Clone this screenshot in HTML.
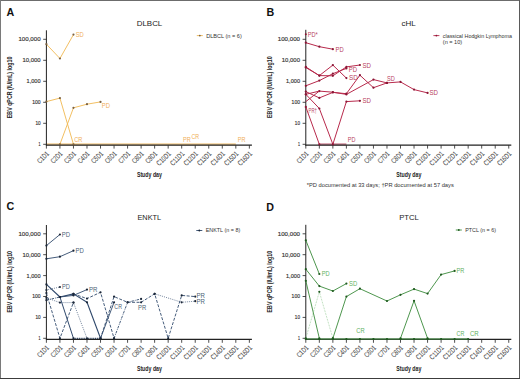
<!DOCTYPE html><html><head><meta charset="utf-8"><style>html,body{margin:0;padding:0;background:#fff;}svg{display:block;}text{font-family:"Liberation Sans",sans-serif;}</style></head><body>
<svg width="520" height="379" viewBox="0 0 520 379">
<rect x="0" y="0" width="520" height="379" fill="#fff"/>
<text x="6.6" y="15.8" font-size="10.7" font-weight="bold" fill="#111">A</text>
<text x="266.6" y="16.0" font-size="10.7" font-weight="bold" fill="#111">B</text>
<text x="6.4" y="210.4" font-size="10.7" font-weight="bold" fill="#111">C</text>
<text x="266.2" y="210.7" font-size="10.7" font-weight="bold" fill="#111">D</text>
<line x1="43.20" y1="144.30" x2="46.40" y2="144.30" stroke="#222" stroke-width="0.8"/>
<text x="40.60" y="146.20" font-size="5.4" fill="#333" stroke="#333" stroke-width="0.15" text-anchor="end" textLength="2.0" lengthAdjust="spacingAndGlyphs">1</text>
<line x1="43.20" y1="123.30" x2="46.40" y2="123.30" stroke="#222" stroke-width="0.8"/>
<text x="40.60" y="125.20" font-size="5.4" fill="#333" stroke="#333" stroke-width="0.15" text-anchor="end" textLength="5.2" lengthAdjust="spacingAndGlyphs">10</text>
<line x1="43.20" y1="102.30" x2="46.40" y2="102.30" stroke="#222" stroke-width="0.8"/>
<text x="40.60" y="104.20" font-size="5.4" fill="#333" stroke="#333" stroke-width="0.15" text-anchor="end" textLength="8.4" lengthAdjust="spacingAndGlyphs">100</text>
<line x1="43.20" y1="81.30" x2="46.40" y2="81.30" stroke="#222" stroke-width="0.8"/>
<text x="40.60" y="83.20" font-size="5.4" fill="#333" stroke="#333" stroke-width="0.15" text-anchor="end" textLength="14.0" lengthAdjust="spacingAndGlyphs">1,000</text>
<line x1="43.20" y1="60.30" x2="46.40" y2="60.30" stroke="#222" stroke-width="0.8"/>
<text x="40.60" y="62.20" font-size="5.4" fill="#333" stroke="#333" stroke-width="0.15" text-anchor="end" textLength="18.2" lengthAdjust="spacingAndGlyphs">10,000</text>
<line x1="43.20" y1="39.30" x2="46.40" y2="39.30" stroke="#222" stroke-width="0.8"/>
<text x="40.60" y="41.20" font-size="5.4" fill="#333" stroke="#333" stroke-width="0.15" text-anchor="end" textLength="22.2" lengthAdjust="spacingAndGlyphs">100,000</text>
<line x1="46.40" y1="145.20" x2="46.40" y2="148.60" stroke="#222" stroke-width="0.8"/>
<text transform="translate(49.60,154.30) rotate(-45)" font-size="7.4" fill="#4a4a4a" stroke="#4a4a4a" stroke-width="0.08" text-anchor="end" textLength="13.6" lengthAdjust="spacingAndGlyphs">C1D1</text>
<line x1="59.93" y1="145.20" x2="59.93" y2="148.60" stroke="#222" stroke-width="0.8"/>
<text transform="translate(63.13,154.30) rotate(-45)" font-size="7.4" fill="#4a4a4a" stroke="#4a4a4a" stroke-width="0.08" text-anchor="end" textLength="13.6" lengthAdjust="spacingAndGlyphs">C2D1</text>
<line x1="73.46" y1="145.20" x2="73.46" y2="148.60" stroke="#222" stroke-width="0.8"/>
<text transform="translate(76.66,154.30) rotate(-45)" font-size="7.4" fill="#4a4a4a" stroke="#4a4a4a" stroke-width="0.08" text-anchor="end" textLength="13.6" lengthAdjust="spacingAndGlyphs">C3D1</text>
<line x1="86.99" y1="145.20" x2="86.99" y2="148.60" stroke="#222" stroke-width="0.8"/>
<text transform="translate(90.19,154.30) rotate(-45)" font-size="7.4" fill="#4a4a4a" stroke="#4a4a4a" stroke-width="0.08" text-anchor="end" textLength="13.6" lengthAdjust="spacingAndGlyphs">C4D1</text>
<line x1="100.52" y1="145.20" x2="100.52" y2="148.60" stroke="#222" stroke-width="0.8"/>
<text transform="translate(103.72,154.30) rotate(-45)" font-size="7.4" fill="#4a4a4a" stroke="#4a4a4a" stroke-width="0.08" text-anchor="end" textLength="13.6" lengthAdjust="spacingAndGlyphs">C5D1</text>
<line x1="114.05" y1="145.20" x2="114.05" y2="148.60" stroke="#222" stroke-width="0.8"/>
<text transform="translate(117.25,154.30) rotate(-45)" font-size="7.4" fill="#4a4a4a" stroke="#4a4a4a" stroke-width="0.08" text-anchor="end" textLength="13.6" lengthAdjust="spacingAndGlyphs">C6D1</text>
<line x1="127.58" y1="145.20" x2="127.58" y2="148.60" stroke="#222" stroke-width="0.8"/>
<text transform="translate(130.78,154.30) rotate(-45)" font-size="7.4" fill="#4a4a4a" stroke="#4a4a4a" stroke-width="0.08" text-anchor="end" textLength="13.6" lengthAdjust="spacingAndGlyphs">C7D1</text>
<line x1="141.11" y1="145.20" x2="141.11" y2="148.60" stroke="#222" stroke-width="0.8"/>
<text transform="translate(144.31,154.30) rotate(-45)" font-size="7.4" fill="#4a4a4a" stroke="#4a4a4a" stroke-width="0.08" text-anchor="end" textLength="13.6" lengthAdjust="spacingAndGlyphs">C8D1</text>
<line x1="154.64" y1="145.20" x2="154.64" y2="148.60" stroke="#222" stroke-width="0.8"/>
<text transform="translate(157.84,154.30) rotate(-45)" font-size="7.4" fill="#4a4a4a" stroke="#4a4a4a" stroke-width="0.08" text-anchor="end" textLength="13.6" lengthAdjust="spacingAndGlyphs">C9D1</text>
<line x1="168.17" y1="145.20" x2="168.17" y2="148.60" stroke="#222" stroke-width="0.8"/>
<text transform="translate(171.37,154.30) rotate(-45)" font-size="7.4" fill="#4a4a4a" stroke="#4a4a4a" stroke-width="0.08" text-anchor="end" textLength="17.0" lengthAdjust="spacingAndGlyphs">C10D1</text>
<line x1="181.70" y1="145.20" x2="181.70" y2="148.60" stroke="#222" stroke-width="0.8"/>
<text transform="translate(184.90,154.30) rotate(-45)" font-size="7.4" fill="#4a4a4a" stroke="#4a4a4a" stroke-width="0.08" text-anchor="end" textLength="17.0" lengthAdjust="spacingAndGlyphs">C11D1</text>
<line x1="195.23" y1="145.20" x2="195.23" y2="148.60" stroke="#222" stroke-width="0.8"/>
<text transform="translate(198.43,154.30) rotate(-45)" font-size="7.4" fill="#4a4a4a" stroke="#4a4a4a" stroke-width="0.08" text-anchor="end" textLength="17.0" lengthAdjust="spacingAndGlyphs">C12D1</text>
<line x1="208.76" y1="145.20" x2="208.76" y2="148.60" stroke="#222" stroke-width="0.8"/>
<text transform="translate(211.96,154.30) rotate(-45)" font-size="7.4" fill="#4a4a4a" stroke="#4a4a4a" stroke-width="0.08" text-anchor="end" textLength="17.0" lengthAdjust="spacingAndGlyphs">C13D1</text>
<line x1="222.29" y1="145.20" x2="222.29" y2="148.60" stroke="#222" stroke-width="0.8"/>
<text transform="translate(225.49,154.30) rotate(-45)" font-size="7.4" fill="#4a4a4a" stroke="#4a4a4a" stroke-width="0.08" text-anchor="end" textLength="17.0" lengthAdjust="spacingAndGlyphs">C14D1</text>
<line x1="235.82" y1="145.20" x2="235.82" y2="148.60" stroke="#222" stroke-width="0.8"/>
<text transform="translate(239.02,154.30) rotate(-45)" font-size="7.4" fill="#4a4a4a" stroke="#4a4a4a" stroke-width="0.08" text-anchor="end" textLength="17.0" lengthAdjust="spacingAndGlyphs">C15D1</text>
<line x1="249.35" y1="145.20" x2="249.35" y2="148.60" stroke="#222" stroke-width="0.8"/>
<text transform="translate(252.55,154.30) rotate(-45)" font-size="7.4" fill="#4a4a4a" stroke="#4a4a4a" stroke-width="0.08" text-anchor="end" textLength="17.0" lengthAdjust="spacingAndGlyphs">C16D1</text>
<text transform="translate(12.40,87.40) rotate(-90)" font-size="7.0" font-weight="bold" fill="#222" text-anchor="middle" textLength="61.5" lengthAdjust="spacingAndGlyphs">EBV qPCR (IU/mL) log10</text>
<text x="149.40" y="177.30" font-size="7.3" font-weight="bold" fill="#222" text-anchor="middle" textLength="25" lengthAdjust="spacingAndGlyphs">Study day</text>
<text x="149.50" y="25.70" font-size="7.7" fill="#222" text-anchor="middle" textLength="25.6" lengthAdjust="spacingAndGlyphs">DLBCL</text>
<line x1="196.80" y1="35.60" x2="202.80" y2="35.60" stroke="#F0B850" stroke-width="0.9"/>
<circle cx="199.80" cy="35.60" r="0.9" fill="#7A6040"/>
<text x="206.20" y="37.50" font-size="5.4" fill="#333" textLength="35.6" lengthAdjust="spacingAndGlyphs">DLBCL (n = 6)</text>
<polyline points="46.40,144.30 59.93,144.30 73.46,144.30 86.99,144.30 100.52,144.30 114.05,144.30 127.58,144.30 141.11,144.30 154.64,144.30 168.17,144.30 181.70,144.30 195.23,144.30 208.76,144.30 222.29,144.30 235.82,144.30" fill="none" stroke="#F3CF95" stroke-width="2.0" stroke-linejoin="round" opacity="1.0"/>
<line x1="45.90" y1="145.20" x2="251.90" y2="145.20" stroke="#222" stroke-width="1.3"/>
<line x1="46.40" y1="30.30" x2="46.40" y2="145.70" stroke="#222" stroke-width="1"/>
<polyline points="46.40,44.20 59.93,58.50 73.46,34.60" fill="none" stroke="#F0B850" stroke-width="0.9" stroke-linejoin="round" opacity="1.0"/>
<circle cx="46.40" cy="44.20" r="1.1" fill="#7A6040"/>
<circle cx="59.93" cy="58.50" r="1.1" fill="#7A6040"/>
<circle cx="73.46" cy="34.60" r="1.1" fill="#7A6040"/>
<polyline points="46.40,101.60 59.93,98.10 73.46,144.30" fill="none" stroke="#F0B850" stroke-width="0.9" stroke-linejoin="round" opacity="1.0"/>
<circle cx="46.40" cy="101.60" r="1.1" fill="#7A6040"/>
<circle cx="59.93" cy="98.10" r="1.1" fill="#7A6040"/>
<circle cx="73.46" cy="144.30" r="1.1" fill="#7A6040"/>
<polyline points="59.93,144.30 73.46,107.80 86.99,104.20 100.52,101.90" fill="none" stroke="#F0B850" stroke-width="0.9" stroke-linejoin="round" opacity="1.0"/>
<circle cx="59.93" cy="144.30" r="1.1" fill="#7A6040"/>
<circle cx="73.46" cy="107.80" r="1.1" fill="#7A6040"/>
<circle cx="86.99" cy="104.20" r="1.1" fill="#7A6040"/>
<circle cx="100.52" cy="101.90" r="1.1" fill="#7A6040"/>
<text x="75.70" y="37.35" font-size="6.8" fill="#F0AE58" textLength="8.1" lengthAdjust="spacingAndGlyphs">SD</text>
<text x="74.20" y="142.45" font-size="6.8" fill="#F0AE58" textLength="8.1" lengthAdjust="spacingAndGlyphs">CR</text>
<text x="101.80" y="108.45" font-size="6.8" fill="#F0AE58" textLength="8.2" lengthAdjust="spacingAndGlyphs">PD</text>
<text x="183.00" y="142.45" font-size="6.8" fill="#F0AE58" textLength="7.8" lengthAdjust="spacingAndGlyphs">PR</text>
<text x="191.50" y="138.95" font-size="6.8" fill="#F0AE58" textLength="7.7" lengthAdjust="spacingAndGlyphs">CR</text>
<text x="237.70" y="142.45" font-size="6.8" fill="#F0AE58" textLength="7.7" lengthAdjust="spacingAndGlyphs">PR</text>
<line x1="302.60" y1="144.30" x2="305.80" y2="144.30" stroke="#222" stroke-width="0.8"/>
<text x="300.00" y="146.20" font-size="5.4" fill="#333" stroke="#333" stroke-width="0.15" text-anchor="end" textLength="2.0" lengthAdjust="spacingAndGlyphs">1</text>
<line x1="302.60" y1="123.30" x2="305.80" y2="123.30" stroke="#222" stroke-width="0.8"/>
<text x="300.00" y="125.20" font-size="5.4" fill="#333" stroke="#333" stroke-width="0.15" text-anchor="end" textLength="5.2" lengthAdjust="spacingAndGlyphs">10</text>
<line x1="302.60" y1="102.30" x2="305.80" y2="102.30" stroke="#222" stroke-width="0.8"/>
<text x="300.00" y="104.20" font-size="5.4" fill="#333" stroke="#333" stroke-width="0.15" text-anchor="end" textLength="8.4" lengthAdjust="spacingAndGlyphs">100</text>
<line x1="302.60" y1="81.30" x2="305.80" y2="81.30" stroke="#222" stroke-width="0.8"/>
<text x="300.00" y="83.20" font-size="5.4" fill="#333" stroke="#333" stroke-width="0.15" text-anchor="end" textLength="14.0" lengthAdjust="spacingAndGlyphs">1,000</text>
<line x1="302.60" y1="60.30" x2="305.80" y2="60.30" stroke="#222" stroke-width="0.8"/>
<text x="300.00" y="62.20" font-size="5.4" fill="#333" stroke="#333" stroke-width="0.15" text-anchor="end" textLength="18.2" lengthAdjust="spacingAndGlyphs">10,000</text>
<line x1="302.60" y1="39.30" x2="305.80" y2="39.30" stroke="#222" stroke-width="0.8"/>
<text x="300.00" y="41.20" font-size="5.4" fill="#333" stroke="#333" stroke-width="0.15" text-anchor="end" textLength="22.2" lengthAdjust="spacingAndGlyphs">100,000</text>
<line x1="305.80" y1="145.20" x2="305.80" y2="148.60" stroke="#222" stroke-width="0.8"/>
<text transform="translate(309.00,154.30) rotate(-45)" font-size="7.4" fill="#4a4a4a" stroke="#4a4a4a" stroke-width="0.08" text-anchor="end" textLength="13.6" lengthAdjust="spacingAndGlyphs">C1D1</text>
<line x1="319.33" y1="145.20" x2="319.33" y2="148.60" stroke="#222" stroke-width="0.8"/>
<text transform="translate(322.53,154.30) rotate(-45)" font-size="7.4" fill="#4a4a4a" stroke="#4a4a4a" stroke-width="0.08" text-anchor="end" textLength="13.6" lengthAdjust="spacingAndGlyphs">C2D1</text>
<line x1="332.86" y1="145.20" x2="332.86" y2="148.60" stroke="#222" stroke-width="0.8"/>
<text transform="translate(336.06,154.30) rotate(-45)" font-size="7.4" fill="#4a4a4a" stroke="#4a4a4a" stroke-width="0.08" text-anchor="end" textLength="13.6" lengthAdjust="spacingAndGlyphs">C3D1</text>
<line x1="346.39" y1="145.20" x2="346.39" y2="148.60" stroke="#222" stroke-width="0.8"/>
<text transform="translate(349.59,154.30) rotate(-45)" font-size="7.4" fill="#4a4a4a" stroke="#4a4a4a" stroke-width="0.08" text-anchor="end" textLength="13.6" lengthAdjust="spacingAndGlyphs">C4D1</text>
<line x1="359.92" y1="145.20" x2="359.92" y2="148.60" stroke="#222" stroke-width="0.8"/>
<text transform="translate(363.12,154.30) rotate(-45)" font-size="7.4" fill="#4a4a4a" stroke="#4a4a4a" stroke-width="0.08" text-anchor="end" textLength="13.6" lengthAdjust="spacingAndGlyphs">C5D1</text>
<line x1="373.45" y1="145.20" x2="373.45" y2="148.60" stroke="#222" stroke-width="0.8"/>
<text transform="translate(376.65,154.30) rotate(-45)" font-size="7.4" fill="#4a4a4a" stroke="#4a4a4a" stroke-width="0.08" text-anchor="end" textLength="13.6" lengthAdjust="spacingAndGlyphs">C6D1</text>
<line x1="386.98" y1="145.20" x2="386.98" y2="148.60" stroke="#222" stroke-width="0.8"/>
<text transform="translate(390.18,154.30) rotate(-45)" font-size="7.4" fill="#4a4a4a" stroke="#4a4a4a" stroke-width="0.08" text-anchor="end" textLength="13.6" lengthAdjust="spacingAndGlyphs">C7D1</text>
<line x1="400.51" y1="145.20" x2="400.51" y2="148.60" stroke="#222" stroke-width="0.8"/>
<text transform="translate(403.71,154.30) rotate(-45)" font-size="7.4" fill="#4a4a4a" stroke="#4a4a4a" stroke-width="0.08" text-anchor="end" textLength="13.6" lengthAdjust="spacingAndGlyphs">C8D1</text>
<line x1="414.04" y1="145.20" x2="414.04" y2="148.60" stroke="#222" stroke-width="0.8"/>
<text transform="translate(417.24,154.30) rotate(-45)" font-size="7.4" fill="#4a4a4a" stroke="#4a4a4a" stroke-width="0.08" text-anchor="end" textLength="13.6" lengthAdjust="spacingAndGlyphs">C9D1</text>
<line x1="427.57" y1="145.20" x2="427.57" y2="148.60" stroke="#222" stroke-width="0.8"/>
<text transform="translate(430.77,154.30) rotate(-45)" font-size="7.4" fill="#4a4a4a" stroke="#4a4a4a" stroke-width="0.08" text-anchor="end" textLength="17.0" lengthAdjust="spacingAndGlyphs">C10D1</text>
<line x1="441.10" y1="145.20" x2="441.10" y2="148.60" stroke="#222" stroke-width="0.8"/>
<text transform="translate(444.30,154.30) rotate(-45)" font-size="7.4" fill="#4a4a4a" stroke="#4a4a4a" stroke-width="0.08" text-anchor="end" textLength="17.0" lengthAdjust="spacingAndGlyphs">C11D1</text>
<line x1="454.63" y1="145.20" x2="454.63" y2="148.60" stroke="#222" stroke-width="0.8"/>
<text transform="translate(457.83,154.30) rotate(-45)" font-size="7.4" fill="#4a4a4a" stroke="#4a4a4a" stroke-width="0.08" text-anchor="end" textLength="17.0" lengthAdjust="spacingAndGlyphs">C12D1</text>
<line x1="468.16" y1="145.20" x2="468.16" y2="148.60" stroke="#222" stroke-width="0.8"/>
<text transform="translate(471.36,154.30) rotate(-45)" font-size="7.4" fill="#4a4a4a" stroke="#4a4a4a" stroke-width="0.08" text-anchor="end" textLength="17.0" lengthAdjust="spacingAndGlyphs">C13D1</text>
<line x1="481.69" y1="145.20" x2="481.69" y2="148.60" stroke="#222" stroke-width="0.8"/>
<text transform="translate(484.89,154.30) rotate(-45)" font-size="7.4" fill="#4a4a4a" stroke="#4a4a4a" stroke-width="0.08" text-anchor="end" textLength="17.0" lengthAdjust="spacingAndGlyphs">C14D1</text>
<line x1="495.22" y1="145.20" x2="495.22" y2="148.60" stroke="#222" stroke-width="0.8"/>
<text transform="translate(498.42,154.30) rotate(-45)" font-size="7.4" fill="#4a4a4a" stroke="#4a4a4a" stroke-width="0.08" text-anchor="end" textLength="17.0" lengthAdjust="spacingAndGlyphs">C15D1</text>
<line x1="508.75" y1="145.20" x2="508.75" y2="148.60" stroke="#222" stroke-width="0.8"/>
<text transform="translate(511.95,154.30) rotate(-45)" font-size="7.4" fill="#4a4a4a" stroke="#4a4a4a" stroke-width="0.08" text-anchor="end" textLength="17.0" lengthAdjust="spacingAndGlyphs">C16D1</text>
<text transform="translate(271.80,87.15) rotate(-90)" font-size="7.0" font-weight="bold" fill="#222" text-anchor="middle" textLength="61.5" lengthAdjust="spacingAndGlyphs">EBV qPCR (IU/mL) log10</text>
<text x="408.80" y="177.30" font-size="7.3" font-weight="bold" fill="#222" text-anchor="middle" textLength="25" lengthAdjust="spacingAndGlyphs">Study day</text>
<text x="408.70" y="25.70" font-size="7.7" fill="#222" text-anchor="middle" textLength="14.2" lengthAdjust="spacingAndGlyphs">cHL</text>
<line x1="433.40" y1="35.60" x2="439.40" y2="35.60" stroke="#B82A4C" stroke-width="0.9"/>
<circle cx="436.40" cy="35.60" r="0.9" fill="#8A1535"/>
<text x="442.80" y="37.50" font-size="5.4" fill="#333" textLength="69.2" lengthAdjust="spacingAndGlyphs">classical Hodgkin Lymphoma</text>
<text x="442.80" y="43.70" font-size="5.4" fill="#333" textLength="19.4" lengthAdjust="spacingAndGlyphs">(n = 10)</text>
<polyline points="319.33,144.30 332.86,144.30 346.39,144.30" fill="none" stroke="#D08898" stroke-width="2.0" stroke-linejoin="round" opacity="1.0"/>
<line x1="305.30" y1="145.20" x2="511.30" y2="145.20" stroke="#222" stroke-width="1.3"/>
<line x1="305.80" y1="29.80" x2="305.80" y2="145.70" stroke="#222" stroke-width="1"/>
<circle cx="305.80" cy="34.2" r="1.0" fill="#8A1535"/>
<polyline points="305.80,42.70 319.33,46.70 332.86,49.20" fill="none" stroke="#B82A4C" stroke-width="1.0" stroke-linejoin="round" opacity="1.0"/>
<circle cx="305.80" cy="42.70" r="1.1" fill="#8A1535"/>
<circle cx="319.33" cy="46.70" r="1.1" fill="#8A1535"/>
<circle cx="332.86" cy="49.20" r="1.1" fill="#8A1535"/>
<polyline points="305.80,66.90 319.33,75.60 332.86,65.10 346.39,78.10" fill="none" stroke="#B82A4C" stroke-width="1.0" stroke-linejoin="round" opacity="1.0"/>
<circle cx="305.80" cy="66.90" r="1.1" fill="#8A1535"/>
<circle cx="319.33" cy="75.60" r="1.1" fill="#8A1535"/>
<circle cx="332.86" cy="65.10" r="1.1" fill="#8A1535"/>
<circle cx="346.39" cy="78.10" r="1.1" fill="#8A1535"/>
<polyline points="305.80,67.50 319.33,75.60 332.86,75.80 346.39,66.90 359.92,65.00" fill="none" stroke="#B82A4C" stroke-width="1.0" stroke-linejoin="round" opacity="1.0"/>
<circle cx="305.80" cy="67.50" r="1.1" fill="#8A1535"/>
<circle cx="319.33" cy="75.60" r="1.1" fill="#8A1535"/>
<circle cx="332.86" cy="75.80" r="1.1" fill="#8A1535"/>
<circle cx="346.39" cy="66.90" r="1.1" fill="#8A1535"/>
<circle cx="359.92" cy="65.00" r="1.1" fill="#8A1535"/>
<polyline points="305.80,85.80 319.33,80.60 332.86,73.70 346.39,68.40" fill="none" stroke="#B82A4C" stroke-width="1.0" stroke-linejoin="round" opacity="1.0"/>
<circle cx="305.80" cy="85.80" r="1.1" fill="#8A1535"/>
<circle cx="319.33" cy="80.60" r="1.1" fill="#8A1535"/>
<circle cx="332.86" cy="73.70" r="1.1" fill="#8A1535"/>
<circle cx="346.39" cy="68.40" r="1.1" fill="#8A1535"/>
<polyline points="305.80,91.60 319.33,97.90 332.86,92.40 346.39,93.70 359.92,75.20 373.45,87.70 386.98,82.90 400.51,81.90 414.04,89.60 427.57,92.90" fill="none" stroke="#B82A4C" stroke-width="1.0" stroke-linejoin="round" opacity="1.0"/>
<circle cx="305.80" cy="91.60" r="1.1" fill="#8A1535"/>
<circle cx="319.33" cy="97.90" r="1.1" fill="#8A1535"/>
<circle cx="332.86" cy="92.40" r="1.1" fill="#8A1535"/>
<circle cx="346.39" cy="93.70" r="1.1" fill="#8A1535"/>
<circle cx="359.92" cy="75.20" r="1.1" fill="#8A1535"/>
<circle cx="373.45" cy="87.70" r="1.1" fill="#8A1535"/>
<circle cx="386.98" cy="82.90" r="1.1" fill="#8A1535"/>
<circle cx="400.51" cy="81.90" r="1.1" fill="#8A1535"/>
<circle cx="414.04" cy="89.60" r="1.1" fill="#8A1535"/>
<circle cx="427.57" cy="92.90" r="1.1" fill="#8A1535"/>
<polyline points="305.80,94.30 319.33,91.10 332.86,92.20 346.39,94.40 373.45,79.60 386.98,82.90" fill="none" stroke="#B82A4C" stroke-width="1.0" stroke-linejoin="round" opacity="1.0"/>
<circle cx="305.80" cy="94.30" r="1.1" fill="#8A1535"/>
<circle cx="319.33" cy="91.10" r="1.1" fill="#8A1535"/>
<circle cx="332.86" cy="92.20" r="1.1" fill="#8A1535"/>
<circle cx="346.39" cy="94.40" r="1.1" fill="#8A1535"/>
<circle cx="373.45" cy="79.60" r="1.1" fill="#8A1535"/>
<circle cx="386.98" cy="82.90" r="1.1" fill="#8A1535"/>
<polyline points="305.80,94.30 319.33,108.50 332.86,144.30 346.39,101.60 359.92,100.80" fill="none" stroke="#B82A4C" stroke-width="1.0" stroke-linejoin="round" opacity="1.0"/>
<circle cx="305.80" cy="94.30" r="1.1" fill="#8A1535"/>
<circle cx="319.33" cy="108.50" r="1.1" fill="#8A1535"/>
<circle cx="332.86" cy="144.30" r="1.1" fill="#8A1535"/>
<circle cx="346.39" cy="101.60" r="1.1" fill="#8A1535"/>
<circle cx="359.92" cy="100.80" r="1.1" fill="#8A1535"/>
<polyline points="305.80,106.90 319.33,144.30" fill="none" stroke="#B82A4C" stroke-width="1.0" stroke-linejoin="round" opacity="1.0"/>
<circle cx="305.80" cy="106.90" r="1.1" fill="#8A1535"/>
<circle cx="319.33" cy="144.30" r="1.1" fill="#8A1535"/>
<polyline points="305.80,101.60 319.33,91.10" fill="none" stroke="#B82A4C" stroke-width="1.0" stroke-linejoin="round" opacity="1.0"/>
<text x="307.70" y="36.65" font-size="6.8" fill="#B8405E" textLength="10.0" lengthAdjust="spacingAndGlyphs">PD*</text>
<text x="335.60" y="51.65" font-size="6.8" fill="#B8405E" textLength="8.1" lengthAdjust="spacingAndGlyphs">PD</text>
<text x="348.70" y="71.85" font-size="6.8" fill="#B8405E" textLength="8.3" lengthAdjust="spacingAndGlyphs">PD</text>
<text x="362.50" y="67.75" font-size="6.8" fill="#B8405E" textLength="8.5" lengthAdjust="spacingAndGlyphs">SD</text>
<text x="349.00" y="80.15" font-size="6.8" fill="#B8405E" textLength="8.8" lengthAdjust="spacingAndGlyphs">SD</text>
<text x="387.00" y="80.95" font-size="6.8" fill="#B8405E" textLength="7.8" lengthAdjust="spacingAndGlyphs">SD</text>
<text x="429.50" y="95.35" font-size="6.8" fill="#B8405E" textLength="8.5" lengthAdjust="spacingAndGlyphs">SD</text>
<text x="362.50" y="103.25" font-size="6.8" fill="#B8405E" textLength="8.5" lengthAdjust="spacingAndGlyphs">SD</text>
<text x="347.70" y="142.05" font-size="6.8" fill="#B8405E" textLength="7.7" lengthAdjust="spacingAndGlyphs">PD</text>
<text x="308.60" y="112.85" font-size="6.8" fill="#B8405E" textLength="8.4" lengthAdjust="spacingAndGlyphs">PR†</text>
<text x="306.8" y="187.0" font-size="6.0" fill="#333" textLength="147" lengthAdjust="spacingAndGlyphs">*PD documented at 33 days; †PR documented at 57 days</text>
<line x1="43.20" y1="338.30" x2="46.40" y2="338.30" stroke="#222" stroke-width="0.8"/>
<text x="40.60" y="340.20" font-size="5.4" fill="#333" stroke="#333" stroke-width="0.15" text-anchor="end" textLength="2.0" lengthAdjust="spacingAndGlyphs">1</text>
<line x1="43.20" y1="317.40" x2="46.40" y2="317.40" stroke="#222" stroke-width="0.8"/>
<text x="40.60" y="319.30" font-size="5.4" fill="#333" stroke="#333" stroke-width="0.15" text-anchor="end" textLength="5.2" lengthAdjust="spacingAndGlyphs">10</text>
<line x1="43.20" y1="296.50" x2="46.40" y2="296.50" stroke="#222" stroke-width="0.8"/>
<text x="40.60" y="298.40" font-size="5.4" fill="#333" stroke="#333" stroke-width="0.15" text-anchor="end" textLength="8.4" lengthAdjust="spacingAndGlyphs">100</text>
<line x1="43.20" y1="275.60" x2="46.40" y2="275.60" stroke="#222" stroke-width="0.8"/>
<text x="40.60" y="277.50" font-size="5.4" fill="#333" stroke="#333" stroke-width="0.15" text-anchor="end" textLength="14.0" lengthAdjust="spacingAndGlyphs">1,000</text>
<line x1="43.20" y1="254.70" x2="46.40" y2="254.70" stroke="#222" stroke-width="0.8"/>
<text x="40.60" y="256.60" font-size="5.4" fill="#333" stroke="#333" stroke-width="0.15" text-anchor="end" textLength="18.2" lengthAdjust="spacingAndGlyphs">10,000</text>
<line x1="43.20" y1="233.80" x2="46.40" y2="233.80" stroke="#222" stroke-width="0.8"/>
<text x="40.60" y="235.70" font-size="5.4" fill="#333" stroke="#333" stroke-width="0.15" text-anchor="end" textLength="22.2" lengthAdjust="spacingAndGlyphs">100,000</text>
<line x1="46.40" y1="339.40" x2="46.40" y2="342.80" stroke="#222" stroke-width="0.8"/>
<text transform="translate(49.60,348.30) rotate(-45)" font-size="7.4" fill="#4a4a4a" stroke="#4a4a4a" stroke-width="0.08" text-anchor="end" textLength="13.6" lengthAdjust="spacingAndGlyphs">C1D1</text>
<line x1="59.93" y1="339.40" x2="59.93" y2="342.80" stroke="#222" stroke-width="0.8"/>
<text transform="translate(63.13,348.30) rotate(-45)" font-size="7.4" fill="#4a4a4a" stroke="#4a4a4a" stroke-width="0.08" text-anchor="end" textLength="13.6" lengthAdjust="spacingAndGlyphs">C2D1</text>
<line x1="73.46" y1="339.40" x2="73.46" y2="342.80" stroke="#222" stroke-width="0.8"/>
<text transform="translate(76.66,348.30) rotate(-45)" font-size="7.4" fill="#4a4a4a" stroke="#4a4a4a" stroke-width="0.08" text-anchor="end" textLength="13.6" lengthAdjust="spacingAndGlyphs">C3D1</text>
<line x1="86.99" y1="339.40" x2="86.99" y2="342.80" stroke="#222" stroke-width="0.8"/>
<text transform="translate(90.19,348.30) rotate(-45)" font-size="7.4" fill="#4a4a4a" stroke="#4a4a4a" stroke-width="0.08" text-anchor="end" textLength="13.6" lengthAdjust="spacingAndGlyphs">C4D1</text>
<line x1="100.52" y1="339.40" x2="100.52" y2="342.80" stroke="#222" stroke-width="0.8"/>
<text transform="translate(103.72,348.30) rotate(-45)" font-size="7.4" fill="#4a4a4a" stroke="#4a4a4a" stroke-width="0.08" text-anchor="end" textLength="13.6" lengthAdjust="spacingAndGlyphs">C5D1</text>
<line x1="114.05" y1="339.40" x2="114.05" y2="342.80" stroke="#222" stroke-width="0.8"/>
<text transform="translate(117.25,348.30) rotate(-45)" font-size="7.4" fill="#4a4a4a" stroke="#4a4a4a" stroke-width="0.08" text-anchor="end" textLength="13.6" lengthAdjust="spacingAndGlyphs">C6D1</text>
<line x1="127.58" y1="339.40" x2="127.58" y2="342.80" stroke="#222" stroke-width="0.8"/>
<text transform="translate(130.78,348.30) rotate(-45)" font-size="7.4" fill="#4a4a4a" stroke="#4a4a4a" stroke-width="0.08" text-anchor="end" textLength="13.6" lengthAdjust="spacingAndGlyphs">C7D1</text>
<line x1="141.11" y1="339.40" x2="141.11" y2="342.80" stroke="#222" stroke-width="0.8"/>
<text transform="translate(144.31,348.30) rotate(-45)" font-size="7.4" fill="#4a4a4a" stroke="#4a4a4a" stroke-width="0.08" text-anchor="end" textLength="13.6" lengthAdjust="spacingAndGlyphs">C8D1</text>
<line x1="154.64" y1="339.40" x2="154.64" y2="342.80" stroke="#222" stroke-width="0.8"/>
<text transform="translate(157.84,348.30) rotate(-45)" font-size="7.4" fill="#4a4a4a" stroke="#4a4a4a" stroke-width="0.08" text-anchor="end" textLength="13.6" lengthAdjust="spacingAndGlyphs">C9D1</text>
<line x1="168.17" y1="339.40" x2="168.17" y2="342.80" stroke="#222" stroke-width="0.8"/>
<text transform="translate(171.37,348.30) rotate(-45)" font-size="7.4" fill="#4a4a4a" stroke="#4a4a4a" stroke-width="0.08" text-anchor="end" textLength="17.0" lengthAdjust="spacingAndGlyphs">C10D1</text>
<line x1="181.70" y1="339.40" x2="181.70" y2="342.80" stroke="#222" stroke-width="0.8"/>
<text transform="translate(184.90,348.30) rotate(-45)" font-size="7.4" fill="#4a4a4a" stroke="#4a4a4a" stroke-width="0.08" text-anchor="end" textLength="17.0" lengthAdjust="spacingAndGlyphs">C11D1</text>
<line x1="195.23" y1="339.40" x2="195.23" y2="342.80" stroke="#222" stroke-width="0.8"/>
<text transform="translate(198.43,348.30) rotate(-45)" font-size="7.4" fill="#4a4a4a" stroke="#4a4a4a" stroke-width="0.08" text-anchor="end" textLength="17.0" lengthAdjust="spacingAndGlyphs">C12D1</text>
<line x1="208.76" y1="339.40" x2="208.76" y2="342.80" stroke="#222" stroke-width="0.8"/>
<text transform="translate(211.96,348.30) rotate(-45)" font-size="7.4" fill="#4a4a4a" stroke="#4a4a4a" stroke-width="0.08" text-anchor="end" textLength="17.0" lengthAdjust="spacingAndGlyphs">C13D1</text>
<line x1="222.29" y1="339.40" x2="222.29" y2="342.80" stroke="#222" stroke-width="0.8"/>
<text transform="translate(225.49,348.30) rotate(-45)" font-size="7.4" fill="#4a4a4a" stroke="#4a4a4a" stroke-width="0.08" text-anchor="end" textLength="17.0" lengthAdjust="spacingAndGlyphs">C14D1</text>
<line x1="235.82" y1="339.40" x2="235.82" y2="342.80" stroke="#222" stroke-width="0.8"/>
<text transform="translate(239.02,348.30) rotate(-45)" font-size="7.4" fill="#4a4a4a" stroke="#4a4a4a" stroke-width="0.08" text-anchor="end" textLength="17.0" lengthAdjust="spacingAndGlyphs">C15D1</text>
<line x1="249.35" y1="339.40" x2="249.35" y2="342.80" stroke="#222" stroke-width="0.8"/>
<text transform="translate(252.55,348.30) rotate(-45)" font-size="7.4" fill="#4a4a4a" stroke="#4a4a4a" stroke-width="0.08" text-anchor="end" textLength="17.0" lengthAdjust="spacingAndGlyphs">C16D1</text>
<text transform="translate(12.40,281.75) rotate(-90)" font-size="7.0" font-weight="bold" fill="#222" text-anchor="middle" textLength="61.5" lengthAdjust="spacingAndGlyphs">EBV qPCR (IU/mL) log10</text>
<text x="149.40" y="371.30" font-size="7.3" font-weight="bold" fill="#222" text-anchor="middle" textLength="25" lengthAdjust="spacingAndGlyphs">Study day</text>
<text x="149.30" y="220.30" font-size="7.7" fill="#222" text-anchor="middle" textLength="23.7" lengthAdjust="spacingAndGlyphs">ENKTL</text>
<line x1="196.30" y1="230.50" x2="202.30" y2="230.50" stroke="#30496C" stroke-width="0.9"/>
<circle cx="199.30" cy="230.50" r="0.9" fill="#1A2638"/>
<text x="205.70" y="232.40" font-size="5.4" fill="#333" textLength="34.5" lengthAdjust="spacingAndGlyphs">ENKTL (n = 8)</text>
<polyline points="73.46,338.30 86.99,338.30 100.52,338.30" fill="none" stroke="#30496C" stroke-width="1.2" stroke-dasharray="1,0.8" stroke-linejoin="round" opacity="1.0"/>
<line x1="45.90" y1="339.40" x2="251.90" y2="339.40" stroke="#222" stroke-width="1.3"/>
<line x1="46.40" y1="225.00" x2="46.40" y2="339.70" stroke="#222" stroke-width="1"/>
<polyline points="46.40,245.60 59.93,234.50" fill="none" stroke="#30496C" stroke-width="0.9" stroke-linejoin="round" opacity="1.0"/>
<circle cx="46.40" cy="245.60" r="1.1" fill="#1A2638"/>
<circle cx="59.93" cy="234.50" r="1.1" fill="#1A2638"/>
<polyline points="46.40,258.80 59.93,256.70 73.46,250.70" fill="none" stroke="#30496C" stroke-width="0.9" stroke-linejoin="round" opacity="1.0"/>
<circle cx="46.40" cy="258.80" r="1.1" fill="#1A2638"/>
<circle cx="59.93" cy="256.70" r="1.1" fill="#1A2638"/>
<circle cx="73.46" cy="250.70" r="1.1" fill="#1A2638"/>
<polyline points="46.40,284.40 59.93,297.00 73.46,293.90 86.99,302.30 100.52,338.30" fill="none" stroke="#30496C" stroke-width="1.1" stroke-linejoin="round" opacity="1.0"/>
<circle cx="46.40" cy="284.40" r="1.1" fill="#1A2638"/>
<circle cx="59.93" cy="297.00" r="1.1" fill="#1A2638"/>
<circle cx="73.46" cy="293.90" r="1.1" fill="#1A2638"/>
<circle cx="86.99" cy="302.30" r="1.1" fill="#1A2638"/>
<circle cx="100.52" cy="338.30" r="1.1" fill="#1A2638"/>
<polyline points="59.93,297.00 73.46,295.40 86.99,289.60" fill="none" stroke="#30496C" stroke-width="0.9" stroke-linejoin="round" opacity="1.0"/>
<circle cx="59.93" cy="297.00" r="1.1" fill="#1A2638"/>
<circle cx="73.46" cy="295.40" r="1.1" fill="#1A2638"/>
<circle cx="86.99" cy="289.60" r="1.1" fill="#1A2638"/>
<polyline points="46.40,290.00 59.93,287.00" fill="none" stroke="#30496C" stroke-width="0.8" stroke-dasharray="0.8,1.2" stroke-linejoin="round" opacity="1.0"/>
<circle cx="46.40" cy="290.00" r="1.1" fill="#1A2638"/>
<circle cx="59.93" cy="287.00" r="1.1" fill="#1A2638"/>
<polyline points="46.40,293.00 59.93,338.30 73.46,302.50" fill="none" stroke="#30496C" stroke-width="0.9" stroke-dasharray="3,1.5" stroke-linejoin="round" opacity="1.0"/>
<circle cx="46.40" cy="293.00" r="1.1" fill="#1A2638"/>
<circle cx="59.93" cy="338.30" r="1.1" fill="#1A2638"/>
<circle cx="73.46" cy="302.50" r="1.1" fill="#1A2638"/>
<polyline points="73.46,293.90 86.99,298.60 100.52,292.30 114.05,338.30" fill="none" stroke="#30496C" stroke-width="0.9" stroke-dasharray="3,1.5" stroke-linejoin="round" opacity="1.0"/>
<circle cx="73.46" cy="293.90" r="1.1" fill="#1A2638"/>
<circle cx="86.99" cy="298.60" r="1.1" fill="#1A2638"/>
<circle cx="100.52" cy="292.30" r="1.1" fill="#1A2638"/>
<circle cx="114.05" cy="338.30" r="1.1" fill="#1A2638"/>
<polyline points="46.40,300.20 59.93,297.00" fill="none" stroke="#30496C" stroke-width="0.9" stroke-dasharray="2.5,1,0.8,1" stroke-linejoin="round" opacity="1.0"/>
<circle cx="46.40" cy="300.20" r="1.1" fill="#1A2638"/>
<circle cx="59.93" cy="297.00" r="1.1" fill="#1A2638"/>
<polyline points="59.93,297.00 73.46,338.30" fill="none" stroke="#30496C" stroke-width="1.0" stroke-linejoin="round" opacity="1.0"/>
<circle cx="59.93" cy="297.00" r="1.1" fill="#1A2638"/>
<circle cx="73.46" cy="338.30" r="1.1" fill="#1A2638"/>
<polyline points="46.40,297.80 59.93,302.60 73.46,302.60 86.99,338.30" fill="none" stroke="#30496C" stroke-width="0.8" stroke-dasharray="0.8,1.2" stroke-linejoin="round" opacity="1.0"/>
<circle cx="46.40" cy="297.80" r="1.1" fill="#1A2638"/>
<circle cx="59.93" cy="302.60" r="1.1" fill="#1A2638"/>
<circle cx="73.46" cy="302.60" r="1.1" fill="#1A2638"/>
<circle cx="86.99" cy="338.30" r="1.1" fill="#1A2638"/>
<polyline points="100.52,338.30 114.05,296.60 127.58,302.30 141.11,302.30 154.64,293.80 168.17,338.30 181.70,295.40 195.23,296.60" fill="none" stroke="#30496C" stroke-width="0.9" stroke-dasharray="3,1.5" stroke-linejoin="round" opacity="1.0"/>
<circle cx="100.52" cy="338.30" r="1.1" fill="#1A2638"/>
<circle cx="114.05" cy="296.60" r="1.1" fill="#1A2638"/>
<circle cx="127.58" cy="302.30" r="1.1" fill="#1A2638"/>
<circle cx="141.11" cy="302.30" r="1.1" fill="#1A2638"/>
<circle cx="154.64" cy="293.80" r="1.1" fill="#1A2638"/>
<circle cx="168.17" cy="338.30" r="1.1" fill="#1A2638"/>
<circle cx="181.70" cy="295.40" r="1.1" fill="#1A2638"/>
<circle cx="195.23" cy="296.60" r="1.1" fill="#1A2638"/>
<polyline points="100.52,338.30 114.05,302.30" fill="none" stroke="#30496C" stroke-width="0.9" stroke-linejoin="round" opacity="1.0"/>
<circle cx="100.52" cy="338.30" r="1.1" fill="#1A2638"/>
<circle cx="114.05" cy="302.30" r="1.1" fill="#1A2638"/>
<polyline points="114.05,338.30 127.58,302.30 141.11,298.90" fill="none" stroke="#30496C" stroke-width="0.9" stroke-dasharray="2.5,1,0.8,1" stroke-linejoin="round" opacity="1.0"/>
<circle cx="114.05" cy="338.30" r="1.1" fill="#1A2638"/>
<circle cx="127.58" cy="302.30" r="1.1" fill="#1A2638"/>
<circle cx="141.11" cy="298.90" r="1.1" fill="#1A2638"/>
<polyline points="154.64,293.80 181.70,302.30 195.23,301.20" fill="none" stroke="#30496C" stroke-width="0.8" stroke-dasharray="0.8,1.2" stroke-linejoin="round" opacity="1.0"/>
<circle cx="154.64" cy="293.80" r="1.1" fill="#1A2638"/>
<circle cx="181.70" cy="302.30" r="1.1" fill="#1A2638"/>
<circle cx="195.23" cy="301.20" r="1.1" fill="#1A2638"/>
<text x="61.70" y="236.95" font-size="6.8" fill="#4E5F75" textLength="8.3" lengthAdjust="spacingAndGlyphs">PD</text>
<text x="75.50" y="253.15" font-size="6.8" fill="#4E5F75" textLength="8.3" lengthAdjust="spacingAndGlyphs">PD</text>
<text x="61.90" y="289.45" font-size="6.8" fill="#4E5F75" textLength="7.9" lengthAdjust="spacingAndGlyphs">PD</text>
<text x="88.90" y="292.25" font-size="6.8" fill="#4E5F75" textLength="8.5" lengthAdjust="spacingAndGlyphs">PR</text>
<text x="114.30" y="309.45" font-size="6.8" fill="#4E5F75" textLength="7.7" lengthAdjust="spacingAndGlyphs">CR</text>
<text x="138.00" y="309.85" font-size="6.8" fill="#4E5F75" textLength="8.2" lengthAdjust="spacingAndGlyphs">PR</text>
<text x="196.50" y="297.85" font-size="6.8" fill="#4E5F75" textLength="8.5" lengthAdjust="spacingAndGlyphs">PR</text>
<text x="196.50" y="304.05" font-size="6.8" fill="#4E5F75" textLength="8.5" lengthAdjust="spacingAndGlyphs">PR</text>
<line x1="302.60" y1="338.30" x2="305.80" y2="338.30" stroke="#222" stroke-width="0.8"/>
<text x="300.00" y="340.20" font-size="5.4" fill="#333" stroke="#333" stroke-width="0.15" text-anchor="end" textLength="2.0" lengthAdjust="spacingAndGlyphs">1</text>
<line x1="302.60" y1="317.40" x2="305.80" y2="317.40" stroke="#222" stroke-width="0.8"/>
<text x="300.00" y="319.30" font-size="5.4" fill="#333" stroke="#333" stroke-width="0.15" text-anchor="end" textLength="5.2" lengthAdjust="spacingAndGlyphs">10</text>
<line x1="302.60" y1="296.50" x2="305.80" y2="296.50" stroke="#222" stroke-width="0.8"/>
<text x="300.00" y="298.40" font-size="5.4" fill="#333" stroke="#333" stroke-width="0.15" text-anchor="end" textLength="8.4" lengthAdjust="spacingAndGlyphs">100</text>
<line x1="302.60" y1="275.60" x2="305.80" y2="275.60" stroke="#222" stroke-width="0.8"/>
<text x="300.00" y="277.50" font-size="5.4" fill="#333" stroke="#333" stroke-width="0.15" text-anchor="end" textLength="14.0" lengthAdjust="spacingAndGlyphs">1,000</text>
<line x1="302.60" y1="254.70" x2="305.80" y2="254.70" stroke="#222" stroke-width="0.8"/>
<text x="300.00" y="256.60" font-size="5.4" fill="#333" stroke="#333" stroke-width="0.15" text-anchor="end" textLength="18.2" lengthAdjust="spacingAndGlyphs">10,000</text>
<line x1="302.60" y1="233.80" x2="305.80" y2="233.80" stroke="#222" stroke-width="0.8"/>
<text x="300.00" y="235.70" font-size="5.4" fill="#333" stroke="#333" stroke-width="0.15" text-anchor="end" textLength="22.2" lengthAdjust="spacingAndGlyphs">100,000</text>
<line x1="305.80" y1="339.40" x2="305.80" y2="342.80" stroke="#222" stroke-width="0.8"/>
<text transform="translate(309.00,348.30) rotate(-45)" font-size="7.4" fill="#4a4a4a" stroke="#4a4a4a" stroke-width="0.08" text-anchor="end" textLength="13.6" lengthAdjust="spacingAndGlyphs">C1D1</text>
<line x1="319.33" y1="339.40" x2="319.33" y2="342.80" stroke="#222" stroke-width="0.8"/>
<text transform="translate(322.53,348.30) rotate(-45)" font-size="7.4" fill="#4a4a4a" stroke="#4a4a4a" stroke-width="0.08" text-anchor="end" textLength="13.6" lengthAdjust="spacingAndGlyphs">C2D1</text>
<line x1="332.86" y1="339.40" x2="332.86" y2="342.80" stroke="#222" stroke-width="0.8"/>
<text transform="translate(336.06,348.30) rotate(-45)" font-size="7.4" fill="#4a4a4a" stroke="#4a4a4a" stroke-width="0.08" text-anchor="end" textLength="13.6" lengthAdjust="spacingAndGlyphs">C3D1</text>
<line x1="346.39" y1="339.40" x2="346.39" y2="342.80" stroke="#222" stroke-width="0.8"/>
<text transform="translate(349.59,348.30) rotate(-45)" font-size="7.4" fill="#4a4a4a" stroke="#4a4a4a" stroke-width="0.08" text-anchor="end" textLength="13.6" lengthAdjust="spacingAndGlyphs">C4D1</text>
<line x1="359.92" y1="339.40" x2="359.92" y2="342.80" stroke="#222" stroke-width="0.8"/>
<text transform="translate(363.12,348.30) rotate(-45)" font-size="7.4" fill="#4a4a4a" stroke="#4a4a4a" stroke-width="0.08" text-anchor="end" textLength="13.6" lengthAdjust="spacingAndGlyphs">C5D1</text>
<line x1="373.45" y1="339.40" x2="373.45" y2="342.80" stroke="#222" stroke-width="0.8"/>
<text transform="translate(376.65,348.30) rotate(-45)" font-size="7.4" fill="#4a4a4a" stroke="#4a4a4a" stroke-width="0.08" text-anchor="end" textLength="13.6" lengthAdjust="spacingAndGlyphs">C6D1</text>
<line x1="386.98" y1="339.40" x2="386.98" y2="342.80" stroke="#222" stroke-width="0.8"/>
<text transform="translate(390.18,348.30) rotate(-45)" font-size="7.4" fill="#4a4a4a" stroke="#4a4a4a" stroke-width="0.08" text-anchor="end" textLength="13.6" lengthAdjust="spacingAndGlyphs">C7D1</text>
<line x1="400.51" y1="339.40" x2="400.51" y2="342.80" stroke="#222" stroke-width="0.8"/>
<text transform="translate(403.71,348.30) rotate(-45)" font-size="7.4" fill="#4a4a4a" stroke="#4a4a4a" stroke-width="0.08" text-anchor="end" textLength="13.6" lengthAdjust="spacingAndGlyphs">C8D1</text>
<line x1="414.04" y1="339.40" x2="414.04" y2="342.80" stroke="#222" stroke-width="0.8"/>
<text transform="translate(417.24,348.30) rotate(-45)" font-size="7.4" fill="#4a4a4a" stroke="#4a4a4a" stroke-width="0.08" text-anchor="end" textLength="13.6" lengthAdjust="spacingAndGlyphs">C9D1</text>
<line x1="427.57" y1="339.40" x2="427.57" y2="342.80" stroke="#222" stroke-width="0.8"/>
<text transform="translate(430.77,348.30) rotate(-45)" font-size="7.4" fill="#4a4a4a" stroke="#4a4a4a" stroke-width="0.08" text-anchor="end" textLength="17.0" lengthAdjust="spacingAndGlyphs">C10D1</text>
<line x1="441.10" y1="339.40" x2="441.10" y2="342.80" stroke="#222" stroke-width="0.8"/>
<text transform="translate(444.30,348.30) rotate(-45)" font-size="7.4" fill="#4a4a4a" stroke="#4a4a4a" stroke-width="0.08" text-anchor="end" textLength="17.0" lengthAdjust="spacingAndGlyphs">C11D1</text>
<line x1="454.63" y1="339.40" x2="454.63" y2="342.80" stroke="#222" stroke-width="0.8"/>
<text transform="translate(457.83,348.30) rotate(-45)" font-size="7.4" fill="#4a4a4a" stroke="#4a4a4a" stroke-width="0.08" text-anchor="end" textLength="17.0" lengthAdjust="spacingAndGlyphs">C12D1</text>
<line x1="468.16" y1="339.40" x2="468.16" y2="342.80" stroke="#222" stroke-width="0.8"/>
<text transform="translate(471.36,348.30) rotate(-45)" font-size="7.4" fill="#4a4a4a" stroke="#4a4a4a" stroke-width="0.08" text-anchor="end" textLength="17.0" lengthAdjust="spacingAndGlyphs">C13D1</text>
<line x1="481.69" y1="339.40" x2="481.69" y2="342.80" stroke="#222" stroke-width="0.8"/>
<text transform="translate(484.89,348.30) rotate(-45)" font-size="7.4" fill="#4a4a4a" stroke="#4a4a4a" stroke-width="0.08" text-anchor="end" textLength="17.0" lengthAdjust="spacingAndGlyphs">C14D1</text>
<line x1="495.22" y1="339.40" x2="495.22" y2="342.80" stroke="#222" stroke-width="0.8"/>
<text transform="translate(498.42,348.30) rotate(-45)" font-size="7.4" fill="#4a4a4a" stroke="#4a4a4a" stroke-width="0.08" text-anchor="end" textLength="17.0" lengthAdjust="spacingAndGlyphs">C15D1</text>
<line x1="508.75" y1="339.40" x2="508.75" y2="342.80" stroke="#222" stroke-width="0.8"/>
<text transform="translate(511.95,348.30) rotate(-45)" font-size="7.4" fill="#4a4a4a" stroke="#4a4a4a" stroke-width="0.08" text-anchor="end" textLength="17.0" lengthAdjust="spacingAndGlyphs">C16D1</text>
<text transform="translate(271.80,281.65) rotate(-90)" font-size="7.0" font-weight="bold" fill="#222" text-anchor="middle" textLength="61.5" lengthAdjust="spacingAndGlyphs">EBV qPCR (IU/mL) log10</text>
<text x="408.80" y="371.30" font-size="7.3" font-weight="bold" fill="#222" text-anchor="middle" textLength="25" lengthAdjust="spacingAndGlyphs">Study day</text>
<text x="409.00" y="219.80" font-size="7.7" fill="#222" text-anchor="middle" textLength="19.6" lengthAdjust="spacingAndGlyphs">PTCL</text>
<line x1="455.80" y1="230.00" x2="461.80" y2="230.00" stroke="#3A8A3A" stroke-width="0.9"/>
<circle cx="458.80" cy="230.00" r="0.9" fill="#1F5A1F"/>
<text x="465.20" y="231.90" font-size="5.4" fill="#333" textLength="30.8" lengthAdjust="spacingAndGlyphs">PTCL (n = 6)</text>
<line x1="305.30" y1="339.40" x2="511.30" y2="339.40" stroke="#222" stroke-width="1.3"/>
<line x1="305.80" y1="224.80" x2="305.80" y2="339.70" stroke="#222" stroke-width="1"/>
<polyline points="305.80,339.00 319.33,339.00 332.86,339.00 346.39,339.00 359.92,339.00 373.45,339.00 386.98,339.00 400.51,339.00 414.04,339.00 427.57,339.00 441.10,339.00 454.63,339.00 468.16,339.00" fill="none" stroke="#3E7E3E" stroke-width="1.5" stroke-linejoin="round" opacity="0.85"/>
<circle cx="305.80" cy="339.00" r="1.1" fill="#1F5A1F"/>
<circle cx="319.33" cy="339.00" r="1.1" fill="#1F5A1F"/>
<circle cx="332.86" cy="339.00" r="1.1" fill="#1F5A1F"/>
<circle cx="346.39" cy="339.00" r="1.1" fill="#1F5A1F"/>
<circle cx="359.92" cy="339.00" r="1.1" fill="#1F5A1F"/>
<circle cx="373.45" cy="339.00" r="1.1" fill="#1F5A1F"/>
<circle cx="386.98" cy="339.00" r="1.1" fill="#1F5A1F"/>
<circle cx="400.51" cy="339.00" r="1.1" fill="#1F5A1F"/>
<circle cx="414.04" cy="339.00" r="1.1" fill="#1F5A1F"/>
<circle cx="427.57" cy="339.00" r="1.1" fill="#1F5A1F"/>
<circle cx="441.10" cy="339.00" r="1.1" fill="#1F5A1F"/>
<circle cx="454.63" cy="339.00" r="1.1" fill="#1F5A1F"/>
<circle cx="468.16" cy="339.00" r="1.1" fill="#1F5A1F"/>
<polyline points="305.80,240.30 319.33,274.00" fill="none" stroke="#3A8A3A" stroke-width="0.9" stroke-linejoin="round" opacity="1.0"/>
<circle cx="305.80" cy="240.30" r="1.1" fill="#1F5A1F"/>
<circle cx="319.33" cy="274.00" r="1.1" fill="#1F5A1F"/>
<polyline points="305.80,269.20 319.33,286.10 332.86,291.00 346.39,283.60" fill="none" stroke="#3A8A3A" stroke-width="0.9" stroke-linejoin="round" opacity="1.0"/>
<circle cx="305.80" cy="269.20" r="1.1" fill="#1F5A1F"/>
<circle cx="319.33" cy="286.10" r="1.1" fill="#1F5A1F"/>
<circle cx="332.86" cy="291.00" r="1.1" fill="#1F5A1F"/>
<circle cx="346.39" cy="283.60" r="1.1" fill="#1F5A1F"/>
<polyline points="305.80,280.80 319.33,338.30" fill="none" stroke="#3A8A3A" stroke-width="0.9" stroke-linejoin="round" opacity="1.0"/>
<circle cx="305.80" cy="280.80" r="1.1" fill="#1F5A1F"/>
<circle cx="319.33" cy="338.30" r="1.1" fill="#1F5A1F"/>
<polyline points="305.80,338.30 319.33,291.80 332.86,338.30" fill="none" stroke="#7BBE7B" stroke-width="0.7" stroke-dasharray="0.7,0.9" stroke-linejoin="round" opacity="1.0"/>
<circle cx="305.80" cy="338.30" r="1.1" fill="#1F5A1F"/>
<circle cx="319.33" cy="291.80" r="1.1" fill="#1F5A1F"/>
<circle cx="332.86" cy="338.30" r="1.1" fill="#1F5A1F"/>
<polyline points="332.86,338.30 346.39,296.60 359.92,288.70 386.98,301.00 400.51,294.80 414.04,289.10 427.57,293.60 441.10,274.60 454.63,270.90" fill="none" stroke="#3A8A3A" stroke-width="0.9" stroke-linejoin="round" opacity="1.0"/>
<circle cx="332.86" cy="338.30" r="1.1" fill="#1F5A1F"/>
<circle cx="346.39" cy="296.60" r="1.1" fill="#1F5A1F"/>
<circle cx="359.92" cy="288.70" r="1.1" fill="#1F5A1F"/>
<circle cx="386.98" cy="301.00" r="1.1" fill="#1F5A1F"/>
<circle cx="400.51" cy="294.80" r="1.1" fill="#1F5A1F"/>
<circle cx="414.04" cy="289.10" r="1.1" fill="#1F5A1F"/>
<circle cx="427.57" cy="293.60" r="1.1" fill="#1F5A1F"/>
<circle cx="441.10" cy="274.60" r="1.1" fill="#1F5A1F"/>
<circle cx="454.63" cy="270.90" r="1.1" fill="#1F5A1F"/>
<polyline points="400.51,338.30 414.04,300.80 427.57,338.30" fill="none" stroke="#3A8A3A" stroke-width="0.9" stroke-linejoin="round" opacity="1.0"/>
<circle cx="400.51" cy="338.30" r="1.1" fill="#1F5A1F"/>
<circle cx="414.04" cy="300.80" r="1.1" fill="#1F5A1F"/>
<circle cx="427.57" cy="338.30" r="1.1" fill="#1F5A1F"/>
<text x="321.80" y="276.45" font-size="6.8" fill="#62B062" textLength="7.9" lengthAdjust="spacingAndGlyphs">PD</text>
<text x="349.00" y="286.25" font-size="6.8" fill="#62B062" textLength="8.2" lengthAdjust="spacingAndGlyphs">SD</text>
<text x="456.60" y="273.35" font-size="6.8" fill="#62B062" textLength="7.8" lengthAdjust="spacingAndGlyphs">PR</text>
<text x="356.20" y="332.85" font-size="6.8" fill="#62B062" textLength="8.4" lengthAdjust="spacingAndGlyphs">CR</text>
<text x="456.60" y="335.85" font-size="6.8" fill="#62B062" textLength="7.8" lengthAdjust="spacingAndGlyphs">CR</text>
<text x="469.90" y="335.85" font-size="6.8" fill="#62B062" textLength="8.8" lengthAdjust="spacingAndGlyphs">CR</text>
<rect x="0" y="0" width="520" height="1" fill="#6c6c6c"/>
<rect x="0" y="0" width="1" height="379" fill="#7a7a7a"/>
<rect x="519" y="0" width="1" height="379" fill="#5a5a5a"/>
<rect x="0" y="378" width="520" height="1" fill="#3c3c3c"/>
</svg></body></html>
